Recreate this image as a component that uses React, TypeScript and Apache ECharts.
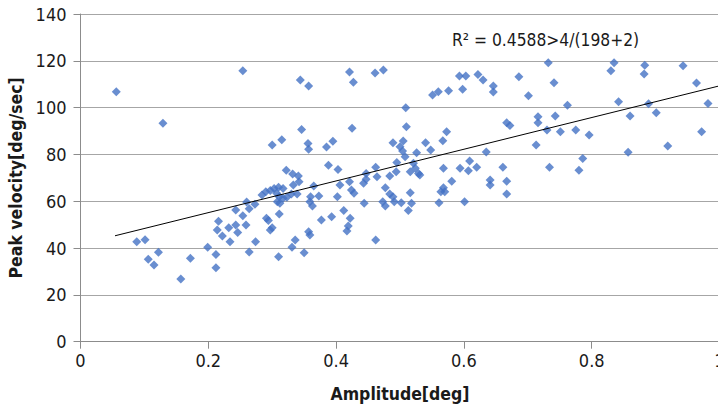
import React, { useEffect, useRef } from "react";
import * as echarts from "echarts";

// Amplitude [deg] values (x) and Peak velocity [deg/sec] values (y)
const amplitude: number[] = [
  0.056, 0.088, 0.101, 0.106, 0.115, 0.122, 0.129, 0.157, 0.172, 0.199,
  0.212, 0.212, 0.216, 0.214, 0.222, 0.232, 0.234, 0.243, 0.243, 0.246,
  0.254, 0.254, 0.259, 0.260, 0.264, 0.264, 0.274, 0.273, 0.284, 0.290,
  0.297, 0.303, 0.310, 0.307, 0.311, 0.308, 0.312, 0.317, 0.291, 0.294,
  0.297, 0.300, 0.311, 0.310, 0.300, 0.315, 0.322, 0.317, 0.323, 0.332,
  0.341, 0.342, 0.333, 0.330, 0.339, 0.331, 0.336, 0.344, 0.357, 0.346,
  0.356, 0.357, 0.365, 0.360, 0.373, 0.359, 0.363, 0.357, 0.359, 0.350,
  0.377, 0.393, 0.385, 0.395, 0.388, 0.403, 0.406, 0.402, 0.412, 0.421,
  0.424, 0.428, 0.422, 0.419, 0.417, 0.421, 0.427, 0.425, 0.443, 0.447,
  0.447, 0.444, 0.461, 0.474, 0.462, 0.464, 0.462, 0.477, 0.473, 0.477,
  0.484, 0.484, 0.489, 0.489, 0.491, 0.495, 0.494, 0.500, 0.505, 0.504,
  0.508, 0.502, 0.509, 0.510, 0.513, 0.516, 0.516, 0.518, 0.526, 0.521,
  0.524, 0.529, 0.531, 0.540, 0.548, 0.551, 0.560, 0.576, 0.573, 0.567,
  0.568, 0.568, 0.564, 0.570, 0.561, 0.581, 0.593, 0.603, 0.598, 0.594,
  0.609, 0.607, 0.601, 0.620, 0.622, 0.630, 0.635, 0.641, 0.641, 0.646,
  0.646, 0.661, 0.667, 0.667, 0.667, 0.672, 0.686, 0.701, 0.716, 0.716,
  0.713, 0.732, 0.741, 0.743, 0.730, 0.751, 0.762, 0.775, 0.796, 0.734,
  0.786, 0.780, 0.830, 0.835, 0.842, 0.860, 0.857, 0.883, 0.882, 0.889,
  0.901, 0.919, 0.943, 0.964, 0.972, 0.982,
];
const peakVelocity: number[] = [
  106.8, 42.7, 43.6, 35.2, 32.8, 38.2, 93.3, 26.8, 35.6, 40.4,
  37.3, 31.6, 51.5, 47.7, 45.2, 48.7, 42.7, 56.3, 49.9, 46.6,
  53.8, 115.8, 49.9, 59.7, 56.8, 38.3, 42.7, 58.7, 62.7, 64.1,
  64.6, 65.5, 66.0, 63.4, 61.9, 59.8, 59.1, 61.3, 52.7, 51.8,
  47.7, 48.7, 54.6, 36.3, 84.0, 86.3, 73.3, 65.5, 61.7, 71.6,
  70.8, 68.3, 66.9, 63.1, 63.1, 40.3, 43.4, 111.8, 109.2, 90.7,
  84.7, 82.2, 66.5, 61.9, 62.2, 59.8, 58.0, 47.0, 45.6, 38.0,
  52.0, 53.4, 83.2, 85.6, 75.4, 73.6, 66.9, 61.9, 56.0, 68.3,
  64.8, 63.4, 52.7, 49.4, 47.3, 115.2, 110.8, 91.2, 67.7, 69.4,
  71.9, 59.1, 114.8, 116.1, 74.5, 70.5, 43.4, 65.8, 59.8, 58.0,
  70.8, 63.1, 61.9, 85.0, 59.8, 76.6, 72.6, 83.3, 85.7, 81.5,
  79.0, 59.4, 100.0, 91.8, 56.0, 72.6, 63.6, 59.1, 80.7, 76.2,
  74.1, 71.9, 71.2, 85.0, 81.9, 105.4, 106.8, 107.2, 89.7, 85.9,
  74.1, 65.8, 64.1, 64.1, 59.4, 68.6, 113.5, 113.5, 107.8, 74.1,
  77.2, 73.0, 59.8, 74.5, 114.2, 111.8, 81.0, 69.1, 66.9, 109.2,
  106.7, 74.5, 68.6, 63.1, 93.5, 92.4, 113.2, 105.1, 96.1, 93.5,
  84.0, 119.2, 110.6, 96.4, 90.4, 89.7, 101.0, 90.4, 88.3, 74.5,
  78.3, 73.3, 115.8, 119.2, 102.5, 96.4, 80.9, 118.1, 114.4, 101.7,
  97.8, 83.6, 117.9, 110.5, 89.7, 101.8,
];

// Linear trendline
const trendSlope = 67.7;
const trendIntercept = 41.6;
const trendRange: number[] = [0.054, 1.0];
const trendLabel = "R² = 0.4588>4/(198+2)";

const xTicks = { min: 0, max: 1, interval: 0.2 };
const yTicks = { min: 0, max: 140, interval: 20 };

const FONT = "'Liberation Sans Narrow', 'DejaVu Sans Condensed', 'Open Sans', sans-serif";

export default function App() {
  const ref = useRef<HTMLDivElement>(null);
  useEffect(() => {
    if (!ref.current) return;
    const chart = echarts.init(ref.current, undefined, { renderer: "svg" });
    const points = amplitude.map((x, i) => [x, peakVelocity[i]]);
    const trend = trendRange.map((x) => [x, trendIntercept + trendSlope * x]);
    const axisColor = "#8c8c8c";
    chart.setOption({
      animation: false,
      backgroundColor: "#ffffff",
      grid: {
        left: 80.5,
        top: 14,
        width: 639,
        height: 327.7,
        containLabel: false,
        outerBoundsMode: "none",
      },
      xAxis: {
        type: "value",
        min: xTicks.min,
        max: xTicks.max,
        interval: xTicks.interval,
        name: "Amplitude[deg]",
        nameLocation: "middle",
        nameGap: 43,
        nameTextStyle: { fontFamily: FONT, fontSize: 17.5, fontWeight: "bold", color: "#1a1a1a" },
        axisLine: { show: true, lineStyle: { color: axisColor, width: 1 } },
        axisTick: { show: true, length: 7, lineStyle: { color: axisColor } },
        splitLine: { show: false },
        axisLabel: { fontFamily: FONT, fontSize: 18, color: "#1a1a1a", margin: 10 },
      },
      yAxis: {
        type: "value",
        min: yTicks.min,
        max: yTicks.max,
        interval: yTicks.interval,
        name: "Peak velocity[deg/sec]",
        nameLocation: "middle",
        nameGap: 46,
        nameTextStyle: { fontFamily: FONT, fontSize: 17.5, fontWeight: "bold", color: "#1a1a1a" },
        axisLine: { show: true, lineStyle: { color: axisColor, width: 1 } },
        axisTick: { show: true, length: 7, lineStyle: { color: axisColor } },
        splitLine: { show: true, lineStyle: { color: "#a6a6a6", width: 1 } },
        axisLabel: { fontFamily: FONT, fontSize: 18, color: "#1a1a1a", margin: 14 },
      },
      graphic: [
        {
          type: "text",
          left: 452,
          top: 31,
          style: { text: trendLabel, fontFamily: FONT, fontSize: 17.3, fill: "#1a1a1a" },
        },
      ],
      series: [
        {
          type: "scatter",
          data: points,
          symbol: "diamond",
          symbolSize: 9,
          itemStyle: { color: "#4472C4" },
          z: 3,
        },
        {
          type: "line",
          data: trend,
          symbol: "none",
          silent: true,
          lineStyle: { color: "#000000", width: 1 },
          z: 4,
        },
      ],
    });
    return () => chart.dispose();
  }, []);
  return (
    <div
      ref={ref}
      style={{ position: "fixed", left: 0, top: 0, width: 718, height: 411, background: "#fff" }}
    />
  );
}
